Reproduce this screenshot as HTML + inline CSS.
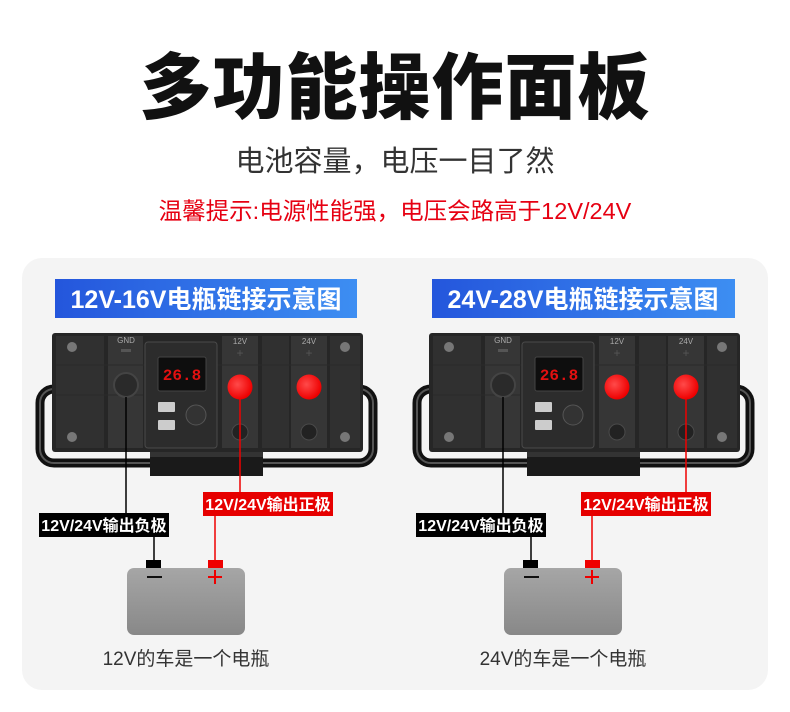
<!DOCTYPE html>
<html><head><meta charset="utf-8"><style>
html,body{margin:0;padding:0;background:#fff;}
body{width:790px;height:712px;overflow:hidden;position:relative;font-family:"Liberation Sans","Noto Sans CJK SC",sans-serif;}
.t{position:absolute;left:0;width:790px;text-align:center;white-space:nowrap;}
</style></head><body>
<div class="t" style="top:46px;font-size:72px;font-weight:900;color:#111;letter-spacing:1px;line-height:86px;">多功能操作面板</div>
<div class="t" style="top:143px;font-size:29px;color:#333;line-height:38px;">电池容量，电压一目了然</div>
<div class="t" style="top:195px;font-size:23.5px;color:#e60012;line-height:32px;">温馨提示:电源性能强，电压会路高于12V/24V</div>
<svg width="790" height="712" style="position:absolute;left:0;top:0" xmlns="http://www.w3.org/2000/svg">
<defs>
<linearGradient id="ban" x1="0" x2="1"><stop offset="0" stop-color="#2456dc"/><stop offset="1" stop-color="#3d8ef2"/></linearGradient>
<linearGradient id="bat" x1="0" y1="0" x2="0" y2="1"><stop offset="0" stop-color="#a6a6a6"/><stop offset="1" stop-color="#888"/></linearGradient>
<radialGradient id="rb" cx="0.4" cy="0.4" r="0.6"><stop offset="0" stop-color="#ff4a4a"/><stop offset="1" stop-color="#e00"/></radialGradient>
<g id="dev">
 <rect x="40" y="389" width="333" height="74" rx="14" fill="none" stroke="#111" stroke-width="9"/>
 <rect x="40" y="389" width="333" height="74" rx="14" fill="none" stroke="#555" stroke-width="2"/>
 <rect x="52" y="333" width="311" height="119" rx="3" fill="#262626"/>
 <rect x="56" y="336" width="48" height="112" fill="#303030"/>
 <rect x="108" y="336" width="35" height="112" fill="#363636"/>
 <rect x="222" y="336" width="36" height="112" fill="#363636"/>
 <rect x="262" y="336" width="27" height="112" fill="#303030"/>
 <rect x="291" y="336" width="36" height="112" fill="#363636"/>
 <rect x="330" y="336" width="30" height="112" fill="#303030"/>
 <line x1="56" y1="365" x2="360" y2="365" stroke="#2a2a2a" stroke-width="1"/>
 <line x1="56" y1="395" x2="143" y2="395" stroke="#2a2a2a"/>
 <circle cx="72" cy="347" r="5" fill="#777"/><circle cx="72" cy="437" r="5" fill="#777"/>
 <circle cx="345" cy="347" r="5" fill="#777"/><circle cx="345" cy="437" r="5" fill="#777"/>
 <text x="126" y="343" font-size="8" fill="#aaa" text-anchor="middle" font-family="Liberation Sans">GND</text>
 <rect x="121" y="349" width="10" height="3" fill="#555"/>
 <text x="240" y="344" font-size="8" fill="#aaa" text-anchor="middle" font-family="Liberation Sans">12V</text>
 <text x="240" y="357" font-size="12" fill="#555" text-anchor="middle">+</text>
 <text x="309" y="344" font-size="8" fill="#aaa" text-anchor="middle" font-family="Liberation Sans">24V</text>
 <text x="309" y="357" font-size="12" fill="#555" text-anchor="middle">+</text>
 <circle cx="126" cy="385" r="12" fill="#2a2a2a" stroke="#444" stroke-width="2"/>
 <rect x="145" y="342" width="72" height="106" rx="3" fill="#2c2c2c" stroke="#4a4a4a"/>
 <rect x="158" y="357" width="48" height="34" rx="2" fill="#0e0e0e" stroke="#444"/>
 <text x="182" y="380" font-size="16" fill="#e31010" text-anchor="middle" font-family="Liberation Mono" font-weight="bold">26.8</text>
 <rect x="158" y="402" width="17" height="10" rx="1" fill="#ccc"/>
 <rect x="158" y="420" width="17" height="10" rx="1" fill="#ccc"/>
 <circle cx="196" cy="415" r="10" fill="#333" stroke="#555"/>
 <circle cx="240" cy="387" r="12.5" fill="url(#rb)"/>
 <circle cx="309" cy="387" r="12.5" fill="url(#rb)"/>
 <circle cx="240" cy="432" r="8" fill="#222" stroke="#4a4a4a"/>
 <circle cx="309" cy="432" r="8" fill="#222" stroke="#4a4a4a"/>
 <rect x="150" y="452" width="113" height="24" fill="#1a1a1a"/>
 <rect x="150" y="452" width="113" height="5" fill="#333"/>
 <rect x="127" y="568" width="118" height="67" rx="7" fill="url(#bat)"/>
 <rect x="146" y="560" width="15" height="8" fill="#000"/>
 <rect x="208" y="560" width="15" height="8" fill="#e00"/>
 <rect x="147" y="576" width="15" height="2" fill="#111"/>
 <rect x="208" y="576" width="14" height="2" fill="#e00"/><rect x="214" y="570" width="2" height="14" fill="#e00"/>
 <line x1="126" y1="397" x2="126" y2="513" stroke="#000" stroke-width="1.5"/>
 <line x1="154" y1="537" x2="154" y2="560" stroke="#000" stroke-width="1.5"/>
 <line x1="215" y1="516" x2="215" y2="560" stroke="#e00" stroke-width="1.5"/>
 <rect x="39" y="513" width="130" height="24" fill="#000"/>
 <text x="104" y="531" font-size="16" font-weight="bold" fill="#fff" text-anchor="middle" font-family="Liberation Sans,Noto Sans CJK SC">12V/24V输出负极</text>
</g>
</defs>
<rect x="22" y="258" width="746" height="432" rx="20" fill="#f4f4f4"/>
<rect x="55" y="279" width="302" height="39" fill="url(#ban)"/>
<text x="206" y="308" font-size="25" font-weight="bold" fill="#fff" text-anchor="middle" font-family="Liberation Sans,Noto Sans CJK SC">12V-16V电瓶链接示意图</text>
<rect x="432" y="279" width="303" height="39" fill="url(#ban)"/>
<text x="583" y="308" font-size="25" font-weight="bold" fill="#fff" text-anchor="middle" font-family="Liberation Sans,Noto Sans CJK SC">24V-28V电瓶链接示意图</text>
<use href="#dev"/>
<use href="#dev" transform="translate(377,0)"/>
<line x1="240" y1="399" x2="240" y2="492" stroke="#e00" stroke-width="1.5"/>
<rect x="203" y="492" width="130" height="24" fill="#e60000"/>
<text x="268" y="510" font-size="16" font-weight="bold" fill="#fff" text-anchor="middle" font-family="Liberation Sans,Noto Sans CJK SC">12V/24V输出正极</text>
<line x1="686" y1="399" x2="686" y2="492" stroke="#e00" stroke-width="1.5"/>
<rect x="581" y="492" width="130" height="24" fill="#e60000"/>
<text x="646" y="510" font-size="16" font-weight="bold" fill="#fff" text-anchor="middle" font-family="Liberation Sans,Noto Sans CJK SC">12V/24V输出正极</text>
<text x="186" y="665" font-size="19" fill="#333" text-anchor="middle" font-family="Liberation Sans,Noto Sans CJK SC">12V的车是一个电瓶</text>
<text x="563" y="665" font-size="19" fill="#333" text-anchor="middle" font-family="Liberation Sans,Noto Sans CJK SC">24V的车是一个电瓶</text>
</svg>
</body></html>
